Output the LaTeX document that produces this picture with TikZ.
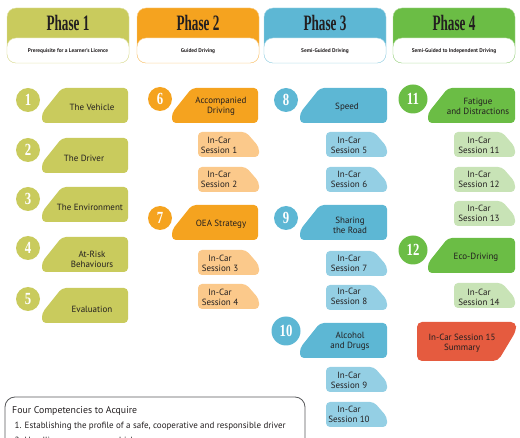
\documentclass[tikz,border=0pt]{standalone}
\usepackage{fontspec}
\setmainfont{PT Sans}
\newfontfamily\phasefont[FakeStretch=0.6]{Liberation Serif}
\newfontfamily\numfont[FakeStretch=0.75]{Liberation Serif}
\usepackage{tikz}
\definecolor{pone}{HTML}{C9CB5D}
\definecolor{ptwo}{HTML}{F5A31F}
\definecolor{pthree}{HTML}{5DB7D4}
\definecolor{pfour}{HTML}{6BBD45}
\definecolor{ptwolt}{HTML}{FBC98B}
\definecolor{pthreelt}{HTML}{94CFE4}
\definecolor{pfourlt}{HTML}{C8E3B6}
\definecolor{sumred}{HTML}{E55B3F}
\definecolor{ink}{HTML}{231F20}
\definecolor{rim}{HTML}{58595B}
\tikzset{label/.style={font=\fontsize{9}{10}\selectfont,text=ink,align=center,inner sep=0pt},numdot/.style={circle,text=white,font=\numfont\bfseries\fontsize{17}{17}\selectfont,inner sep=0pt,minimum size=24pt},bignum/.style={numdot,minimum size=29pt},phasetitle/.style={font=\phasefont\bfseries\fontsize{22}{22}\selectfont,text=ink},phasesub/.style={font=\bfseries\fontsize{5.4}{6}\selectfont,text=ink},note/.style={font=\fontsize{9}{10}\selectfont,text=ink,anchor=west,inner sep=0pt}}
\newcommand\topicbox[5]{\fill[#1,rounded corners=4pt] (#2,#5) -- (#2,{#3+25}) -- ({#2+20},#3) -- (#4,#3) -- (#4,#5) -- cycle;}
\newcommand\sessionbox[3]{\fill[#1,rounded corners=4pt] (#2,#3) -- ({#2+48},#3) -- ({#2+61},{#3+15}) -- ({#2+61},{#3+25}) -- (#2,{#3+25}) -- cycle;}

\begin{document}
\begin{tikzpicture}[x=1pt,y=-1pt]
\useasboundingbox (0,0) rectangle (520,438);
\foreach \i/\x/\col/\sub in {1/7/pone/Prerequisite for a Learner's Licence,2/137/ptwo/Guided Driving,3/264/pthree/Semi-Guided Driving,4/393/pfour/Semi-Guided to Independent Driving}{
  \filldraw[fill=\col,draw=\col!55,rounded corners=9pt] (\x,8) rectangle ({\x+122},63);
  \filldraw[fill=white,draw=\col!55,rounded corners=9pt] (\x,38) rectangle ({\x+122},63);
  \node[phasetitle] (ph\i) at ({\x+61},23) {Phase \i};
  \node[phasesub] (sub\i) at ({\x+61},51) {\sub};
}
\topicbox{pone}{42}{88}{128}{123}
\topicbox{pone}{42}{138}{128}{173}
\topicbox{pone}{42}{187}{128}{222}
\topicbox{pone}{42}{237}{128}{272}
\topicbox{pone}{42}{288}{128}{323}
\topicbox{ptwo}{172}{88}{258}{123}
\topicbox{ptwo}{172}{205}{258}{240}
\topicbox{pthree}{300}{88}{387}{123}
\topicbox{pthree}{300}{205}{387}{240}
\topicbox{pthree}{300}{323}{387}{358}
\topicbox{pfour}{428}{88}{515}{123}
\topicbox{pfour}{428}{238}{515}{273}
\sessionbox{ptwolt}{198}{132}
\sessionbox{ptwolt}{198}{167}
\sessionbox{ptwolt}{198}{250}
\sessionbox{ptwolt}{198}{284}
\sessionbox{pthreelt}{326}{132}
\sessionbox{pthreelt}{326}{167}
\sessionbox{pthreelt}{326}{251}
\sessionbox{pthreelt}{326}{285}
\sessionbox{pthreelt}{326}{367}
\sessionbox{pthreelt}{326}{402}
\sessionbox{pfourlt}{454}{132}
\sessionbox{pfourlt}{454}{167}
\sessionbox{pfourlt}{454}{201}
\sessionbox{pfourlt}{454}{283}
\fill[sumred,rounded corners=5pt] (417,322) -- (516,322) -- (516,331) -- (498,361) -- (417,361) -- cycle;
\node[numdot,fill=pone] (c1) at (28,100) {1};
\node[numdot,fill=pone] (c2) at (28,150) {2};
\node[numdot,fill=pone] (c3) at (28,199) {3};
\node[numdot,fill=pone] (c4) at (28,248) {4};
\node[numdot,fill=pone] (c5) at (28,299) {5};
\node[numdot,fill=ptwo] (c6) at (160,99) {6};
\node[numdot,fill=ptwo] (c7) at (160,218) {7};
\node[numdot,fill=pthree] (c8) at (286,100) {8};
\node[numdot,fill=pthree] (c9) at (286,218) {9};
\node[bignum,fill=pthree] (c10) at (286,331) {10};
\node[bignum,fill=pfour] (c11) at (413,99) {11};
\node[bignum,fill=pfour] (c12) at (413,250) {12};
\node[label] (t1) at (92,107) {The Vehicle};
\node[label] (t2) at (84,158) {The Driver};
\node[label] (t3) at (90,207) {The Environment};
\node[label] (t4) at (92,259) {At-Risk\\Behaviours};
\node[label] (t5) at (92,309) {Evaluation};
\node[label] (t6) at (221,106) {Accompanied\\Driving};
\node[label] (t7) at (221,224) {OEA Strategy};
\node[label] (t8) at (347,107) {Speed};
\node[label] (t9) at (350,225) {Sharing\\the Road};
\node[label] (t10) at (350,341) {Alcohol\\and Drugs};
\node[label] (t11) at (478,106) {Fatigue\\and Distractions};
\node[label] (t12) at (476,257) {Eco-Driving};
\node[label] (s1) at (219,145) {In-Car\\Session 1};
\node[label] (s2) at (219,179) {In-Car\\Session 2};
\node[label] (s3) at (220,263) {In-Car\\Session 3};
\node[label] (s4) at (220,297) {In-Car\\Session 4};
\node[label] (s5) at (349,145) {In-Car\\Session 5};
\node[label] (s6) at (349,179) {In-Car\\Session 6};
\node[label] (s7) at (349,263) {In-Car\\Session 7};
\node[label] (s8) at (349,296) {In-Car\\Session 8};
\node[label] (s9) at (349,380) {In-Car\\Session 9};
\node[label] (s10) at (349,414) {In-Car\\Session 10};
\node[label] (s11) at (479,145) {In-Car\\Session 11};
\node[label] (s12) at (479,179) {In-Car\\Session 12};
\node[label] (s13) at (479,213) {In-Car\\Session 13};
\node[label] (s14) at (479,297) {In-Car\\Session 14};
\node[label] (s15) at (462,343) {In-Car Session 15\\Summary};
\draw[rim,line width=0.8pt,rounded corners=10pt] (5,470) -- (5,397) -- (305,397) -- (305,470);
\node[note,font=\fontsize{9.8}{11}\selectfont] (comp) at (12,410.5) {Four Competencies to Acquire};
\node[note] (comp1) at (14.5,426) {1. Establishing the profile of a safe, cooperative and responsible driver};
\node[note] (comp2) at (14.5,441.5) {2. Handling a passenger vehicle};
\end{tikzpicture}
\end{document}
